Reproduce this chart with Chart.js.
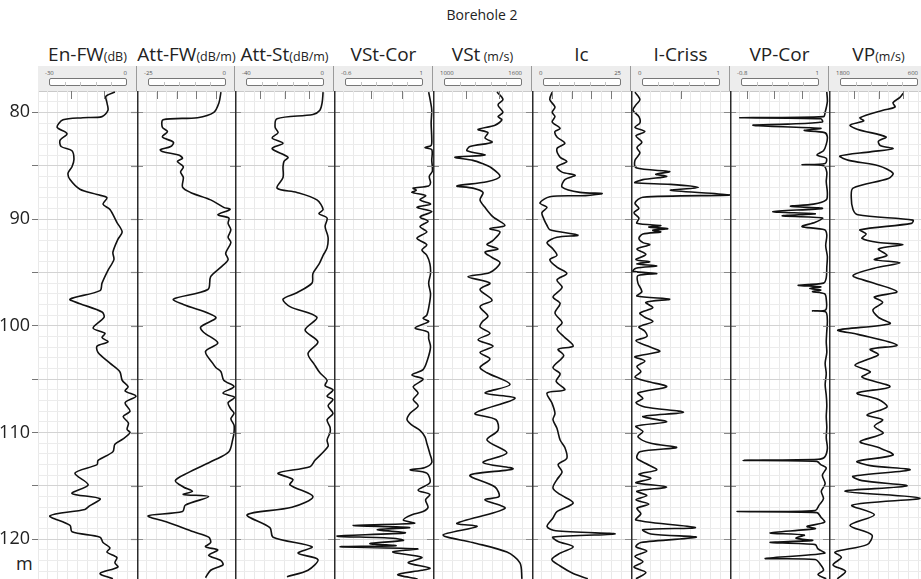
<!DOCTYPE html>
<html>
<head>
<meta charset="utf-8">
<script src="https://cdn.jsdelivr.net/npm/chart.js@4.4.0/dist/chart.umd.min.js"></script>
<style>
  html, body { margin: 0; padding: 0; background: #fff; }
  #wrap { position: relative; width: 921px; height: 579px; overflow: hidden; font-family: "Open Sans", "DejaVu Sans", sans-serif; color: #222; }
  .abs { position: absolute; }
  #main-title { left: 382px; width: 200px; top: 5px; text-align: center; font-size: 14px; line-height: 19px; }
  .trk-title { top: 41px; text-align: center; font-size: 19px; line-height: 26px; white-space: nowrap; }
  .trk-title span { font-size: 12.5px; }
  #band { left: 38px; top: 66px; width: 883px; height: 25px; background: #ededed; border-bottom: 1px solid #c9c9c9; }
  .band-sep { top: 66px; width: 1px; height: 25px; background: #9a9a9a; }
  .sc-lab { top: 70px; font-size: 6px; line-height: 7px; color: #555; white-space: nowrap; }
  .sc-box { top: 78px; height: 8px; border: 1px solid #777; border-radius: 2px; background: #fff; box-sizing: border-box; }
  .sc-tick { top: 82px; width: 1px; height: 4px; background: #c4c4c4; }
  #unit-m { left: 16px; top: 551px; font-size: 18px; line-height: 24px; }
  canvas.trk { position: absolute; top: 91px; }
</style>
</head>
<body>
<div id="wrap">
  <div id="main-title" class="abs">Borehole 2</div>
  <div id="band" class="abs"></div>
  <div id="unit-m" class="abs">m</div>
</div>
<script>
// Track headings and scale labels
const trackNames = ['En-FW', 'Att-FW', 'Att-St', 'VSt-Cor', 'VSt', 'Ic', 'I-Criss', 'VP-Cor', 'VP'];
const trackUnits = ['(dB)', '(dB/m)', '(dB/m)', '', ' (m/s)', '', '', '', '(m/s)'];
const scaleLeftLabels  = ['-30', '-25', '-40', '-0.6', '1000', '0', '0', '-0.8', '1800'];
const scaleRightLabels = ['0', '0', '0', '1', '1600', '25', '1', '1', '600'];
const axisMin = [-30, -25, -40, -0.6, 1000, 0, 0, -0.8, 600];
const axisMax = [0, 0, 0, 1, 1600, 25, 1, 1, 1800];
const axisReversed = [false, false, false, false, false, false, false, false, true];
const topTickValues = [[-20, -10], [-20, -15, -10, -5], [-30, -20, -10], [0, 0.5], [1200, 1400],
                       [5, 10, 15, 20], [0.5], [-0.5, 0, 0.5], [1500, 1200, 900]];
const depthLabels = [80, 90, 100, 110, 120];

// Log curves: [depth (m), value]
const enFw = [[78.1,-6.7],[78.5,-9.4],[79.1,-9.1],[79.8,-8.8],[80.4,-10.6],[80.5,-16.4],[80.7,-22.4],[81.4,-24.2],[82.0,-21.2],[82.6,-23.3],[83.2,-23.0],[83.6,-19.7],[84.4,-19.1],[85.1,-19.7],[85.7,-20.9],[86.3,-20.3],[87.2,-17.3],[87.7,-12.1],[88.0,-9.1],[88.6,-10.3],[89.1,-8.2],[90.3,-6.1],[91.2,-4.5],[91.9,-5.8],[93.1,-7.3],[93.8,-7.0],[94.8,-8.8],[96.0,-10.6],[96.7,-11.2],[97.5,-20.3],[97.9,-17.5],[98.7,-10.6],[99.2,-10.0],[100.2,-13.3],[100.7,-9.7],[101.1,-10.6],[101.5,-8.8],[101.9,-12.1],[102.5,-11.8],[103.5,-8.2],[104.3,-5.2],[105.1,-4.5],[105.7,-2.7],[106.1,-3.6],[106.6,-0.3],[107.2,-3.6],[108.0,-2.1],[108.5,-4.2],[109.1,-2.6],[109.7,-3.0],[110.0,-2.1],[110.6,-4.2],[111.1,-6.7],[111.8,-7.3],[112.6,-11.8],[113.0,-12.1],[113.8,-18.8],[114.9,-14.8],[115.7,-19.7],[116.2,-11.2],[116.9,-14.5],[117.2,-15.8],[117.8,-26.4],[118.7,-20.3],[119.3,-19.7],[119.8,-11.2],[120.3,-10.3],[120.8,-8.2],[121.2,-9.1],[121.7,-6.1],[122.2,-6.7],[122.6,-5.8],[123.2,-11.2],[123.7,-7.3]];

const attFw = [[78.1,-3.8],[79.1,-4.3],[80.0,-5.6],[80.5,-9.7],[80.7,-18.4],[81.4,-18.6],[81.8,-17.3],[82.3,-18.6],[82.8,-15.8],[83.2,-16.5],[83.5,-19.1],[83.7,-18.4],[84.0,-14.5],[84.3,-13.5],[84.6,-14.8],[85.1,-13.3],[85.6,-14.0],[86.1,-13.3],[87.0,-13.5],[87.5,-11.5],[88.2,-6.4],[88.9,-3.1],[89.1,-1.5],[89.6,-4.6],[89.9,-1.8],[90.4,-2.0],[91.0,-1.3],[91.7,-2.0],[92.2,-1.3],[93.2,-2.6],[93.8,-2.0],[94.5,-3.8],[95.4,-6.4],[96.6,-7.1],[97.5,-15.8],[98.0,-13.3],[99.2,-5.1],[100.1,-8.9],[100.6,-8.2],[101.6,-4.6],[102.4,-7.7],[103.5,-5.9],[103.9,-5.1],[104.3,-3.8],[105.1,-3.1],[105.7,-0.5],[106.3,-3.3],[106.7,-0.3],[107.2,-2.0],[107.8,-1.3],[108.2,-0.5],[108.7,-1.3],[109.3,-0.5],[110.0,-0.5],[110.6,-0.8],[111.8,-1.8],[112.6,-5.6],[113.8,-12.3],[114.5,-15.3],[115.1,-13.3],[115.5,-11.0],[115.8,-13.3],[116.0,-6.9],[116.8,-12.8],[117.4,-13.5],[117.8,-22.2],[118.4,-17.3],[119.3,-10.7],[119.8,-6.9],[120.3,-6.4],[120.7,-7.7],[121.0,-4.6],[121.5,-6.9],[122.0,-3.8],[122.4,-3.3],[122.9,-6.4],[123.6,-7.7]];

const attSt = [[78.1,-4.4],[79.1,-4.8],[79.8,-5.7],[80.2,-8.5],[80.6,-23.0],[81.4,-23.8],[81.9,-22.6],[82.4,-25.0],[82.9,-20.6],[83.4,-25.0],[84.2,-18.6],[84.6,-20.2],[85.1,-20.6],[86.1,-20.6],[87.1,-23.0],[87.5,-15.0],[88.2,-6.9],[89.1,-4.4],[89.5,-6.1],[89.9,-2.8],[90.7,-3.6],[91.7,-2.4],[92.7,-2.8],[93.4,-4.4],[94.2,-6.0],[95.1,-8.5],[96.0,-8.9],[96.9,-15.0],[97.5,-20.6],[98.2,-17.8],[99.2,-6.9],[100.4,-11.7],[101.5,-6.5],[102.6,-10.5],[103.7,-7.7],[104.4,-5.7],[105.1,-2.8],[105.6,-3.6],[106.0,-0.4],[106.6,-2.8],[106.9,-0.4],[107.5,-2.4],[108.2,-0.4],[108.8,-2.8],[109.5,-1.6],[110.0,-1.6],[110.7,-2.8],[111.3,-2.4],[112.6,-7.7],[113.2,-9.7],[113.8,-22.6],[114.4,-16.6],[114.9,-17.8],[116.0,-8.5],[117.0,-17.0],[117.7,-35.1],[118.9,-25.9],[119.8,-24.6],[120.7,-8.9],[121.3,-14.5],[121.9,-6.5],[122.9,-10.5],[123.5,-19.0]];

const vstCor = [[78.1,0.93],[79.0,0.96],[79.8,0.98],[81.0,0.97],[82.5,0.98],[83.1,0.97],[83.3,0.87],[83.5,0.98],[84.5,0.98],[85.5,0.99],[86.0,0.94],[86.6,0.96],[86.9,0.93],[87.1,0.68],[87.3,0.73],[87.5,0.66],[87.8,0.88],[88.2,0.79],[88.6,0.96],[88.9,0.74],[89.3,0.98],[89.8,0.79],[90.2,0.92],[90.7,0.79],[91.2,0.90],[91.8,0.74],[92.4,0.90],[92.9,0.82],[93.4,0.90],[94.2,0.95],[95.1,0.96],[96.0,0.93],[97.0,0.96],[98.0,0.94],[99.0,0.90],[99.3,0.84],[99.6,0.93],[100.2,0.71],[100.6,0.92],[101.2,0.93],[102.0,0.96],[103.2,0.91],[104.1,0.84],[104.6,0.66],[105.0,0.84],[105.7,0.68],[106.3,0.76],[106.9,0.68],[107.5,0.76],[108.2,0.63],[108.8,0.58],[109.3,0.66],[109.8,0.79],[110.4,0.87],[111.0,0.90],[112.0,0.95],[112.8,0.98],[113.3,0.86],[113.5,0.63],[113.8,0.90],[114.7,0.95],[115.4,0.76],[115.8,0.95],[116.3,0.88],[117.0,0.92],[117.4,0.84],[117.7,0.66],[118.2,0.52],[118.5,0.70],[118.7,-0.29],[118.9,0.62],[119.1,0.10],[119.4,0.55],[119.7,-0.55],[119.9,0.35],[120.1,0.52],[120.4,-0.02],[120.6,0.40],[120.7,-0.50],[120.9,0.75],[121.2,0.35],[121.7,0.82],[122.2,0.60],[122.7,0.95],[122.9,0.82],[123.3,0.43],[123.7,0.75]];

const vst = [[78.1,1388],[78.8,1424],[79.3,1394],[80.0,1424],[80.4,1394],[80.7,1418],[81.2,1376],[81.6,1273],[81.9,1333],[82.4,1315],[82.8,1358],[83.2,1224],[83.6,1206],[84.0,1315],[84.2,1133],[84.5,1242],[84.8,1300],[85.1,1345],[86.0,1406],[86.5,1327],[86.9,1145],[87.1,1242],[87.5,1303],[88.2,1285],[88.9,1315],[89.8,1364],[90.6,1436],[90.9,1345],[91.2,1406],[92.0,1364],[92.4,1327],[92.8,1394],[93.1,1315],[93.6,1358],[94.1,1406],[95.0,1345],[95.4,1212],[96.0,1345],[96.6,1285],[97.6,1358],[98.2,1285],[99.1,1333],[99.6,1300],[100.1,1285],[100.7,1345],[101.3,1273],[101.9,1364],[102.5,1285],[103.1,1345],[103.9,1285],[104.4,1327],[105.5,1467],[106.3,1315],[106.8,1497],[108.2,1255],[108.8,1382],[109.8,1394],[110.7,1327],[111.9,1448],[112.8,1303],[113.4,1485],[114.0,1224],[115.1,1376],[116.0,1400],[116.3,1315],[117.1,1436],[118.5,1145],[118.8,1267],[119.6,1061],[120.3,1240],[121.2,1448],[122.2,1527],[123.7,1539]];

const ic = [[78.1,5.1],[78.8,4.5],[79.5,5.8],[80.0,5.1],[80.4,5.8],[80.9,5.1],[81.5,7.1],[81.8,5.8],[82.3,6.3],[82.9,8.3],[83.4,6.3],[84.2,7.1],[84.6,8.8],[85.1,6.3],[85.6,7.6],[85.9,10.9],[86.3,8.3],[87.0,7.6],[87.5,12.1],[87.6,17.7],[87.8,13.5],[87.9,4.5],[88.5,2.0],[88.9,3.8],[89.4,2.5],[90.0,3.0],[90.6,3.8],[91.0,4.5],[91.5,11.6],[91.7,6.3],[92.2,3.8],[92.8,5.3],[93.4,6.3],[93.8,4.5],[94.5,6.3],[95.1,8.8],[95.7,6.3],[96.4,7.6],[97.3,5.3],[97.9,7.1],[98.8,5.8],[99.7,7.6],[100.3,6.3],[101.0,8.0],[101.9,10.4],[102.2,6.6],[102.8,8.0],[103.9,5.3],[104.5,7.1],[105.2,6.1],[106.0,8.3],[106.3,3.8],[107.2,5.0],[108.2,5.8],[108.8,5.3],[109.6,6.3],[110.7,7.1],[111.4,8.3],[112.4,8.8],[113.0,6.6],[113.7,7.6],[114.4,6.3],[115.2,5.3],[115.8,7.1],[116.6,10.4],[117.4,6.3],[118.0,5.3],[118.8,3.8],[119.2,6.0],[119.5,21.0],[119.8,5.3],[120.2,6.6],[120.7,10.4],[121.3,7.1],[121.9,5.0],[122.5,7.1],[123.2,10.4],[123.7,14.1]];

const iCriss = [[78.1,0.04],[78.8,0.09],[79.3,0.05],[79.8,0.02],[80.4,0.08],[81.0,0.09],[81.4,0.04],[81.8,0.14],[82.2,0.05],[82.8,0.11],[83.3,0.06],[83.8,0.09],[84.5,0.04],[85.2,0.05],[85.55,0.39],[85.8,0.25],[86.0,0.36],[86.3,0.12],[86.6,0.04],[86.75,0.40],[87.05,0.68],[87.3,0.40],[87.73,1.0],[87.95,0.12],[88.5,0.04],[89.0,0.08],[89.4,0.03],[89.9,0.08],[90.4,0.06],[90.6,0.30],[90.75,0.18],[90.9,0.37],[91.05,0.22],[91.2,0.30],[91.4,0.12],[91.8,0.08],[92.2,0.12],[92.4,0.19],[92.8,0.06],[93.3,0.15],[93.8,0.05],[94.0,0.19],[94.2,0.06],[94.4,0.26],[94.6,0.05],[94.9,0.02],[95.1,0.26],[95.3,0.07],[96.0,0.07],[96.8,0.11],[97.2,0.06],[97.5,0.39],[97.8,0.15],[98.3,0.22],[98.8,0.09],[99.2,0.14],[99.6,0.22],[100.1,0.08],[100.5,0.14],[101.0,0.16],[101.4,0.05],[101.9,0.17],[102.4,0.29],[102.9,0.04],[103.3,0.14],[103.8,0.06],[104.3,0.10],[104.8,0.04],[105.2,0.16],[105.7,0.36],[106.3,0.07],[106.8,0.12],[107.2,0.05],[107.6,0.14],[108.1,0.53],[108.5,0.12],[109.0,0.36],[109.4,0.05],[109.9,0.12],[110.4,0.07],[111.0,0.20],[111.4,0.46],[111.8,0.09],[112.4,0.06],[112.9,0.15],[113.5,0.26],[113.9,0.08],[114.3,0.20],[114.7,0.05],[115.1,0.36],[115.5,0.06],[115.9,0.16],[116.3,0.05],[116.7,0.18],[117.1,0.06],[117.6,0.10],[118.2,0.05],[118.9,0.65],[119.1,0.12],[119.5,0.20],[119.8,0.66],[120.3,0.10],[120.7,0.05],[121.1,0.16],[121.6,0.04],[122.1,0.12],[122.6,0.03],[123.1,0.15],[123.7,0.05]];

const vpCor = [[78.1,0.96],[79.0,0.97],[80.0,0.93],[80.4,0.90],[80.5,-0.62],[80.6,0.85],[80.9,0.88],[81.1,0.25],[81.2,-0.38],[81.3,-0.10],[81.5,0.85],[81.7,0.55],[81.9,0.92],[82.3,0.97],[83.0,0.95],[83.6,0.90],[84.0,0.78],[84.3,0.95],[84.8,0.93],[84.9,0.51],[85.0,0.90],[85.6,0.96],[86.5,0.95],[87.5,0.97],[88.2,0.95],[88.6,0.72],[88.8,0.30],[89.0,0.88],[89.3,-0.02],[89.5,0.75],[89.7,0.15],[89.9,0.88],[90.3,0.75],[90.7,0.51],[91.0,0.92],[91.5,0.96],[92.5,0.94],[93.5,0.97],[94.5,0.96],[95.5,0.95],[96.0,0.90],[96.2,0.44],[96.35,0.85],[96.5,0.65],[96.65,0.85],[96.8,0.70],[97.0,0.92],[97.5,0.95],[98.5,0.94],[98.6,0.70],[98.7,0.94],[99.5,0.97],[100.5,0.96],[101.5,0.95],[102.5,0.96],[103.5,0.93],[104.5,0.95],[105.5,0.93],[106.5,0.95],[107.5,0.96],[108.5,0.95],[109.5,0.96],[110.5,0.95],[111.5,0.97],[112.3,0.92],[112.5,0.80],[112.6,-0.56],[112.7,0.78],[113.0,0.85],[113.3,0.95],[114.0,0.88],[114.8,0.93],[115.5,0.86],[116.2,0.90],[116.8,0.82],[117.3,0.75],[117.4,-0.67],[117.5,0.78],[117.9,0.85],[118.4,0.92],[118.8,0.60],[119.0,0.75],[119.4,-0.07],[119.6,0.55],[119.9,0.40],[120.1,0.70],[120.3,-0.07],[120.5,0.75],[120.9,0.80],[121.3,0.92],[121.8,-0.16],[121.9,0.75],[122.4,0.85],[122.9,0.90],[123.3,0.80],[123.7,0.95]];

const vp = [[78.2,899],[78.6,940],[79.1,1024],[79.5,1000],[79.8,1145],[80.5,1424],[80.8,1380],[81.2,1545],[81.6,1450],[82.3,1109],[82.7,1200],[83.1,1180],[83.4,1024],[83.7,1300],[84.1,1667],[84.5,1560],[85.0,1200],[85.7,1024],[86.2,1080],[87.1,1509],[88.0,1530],[89.1,1509],[89.6,1450],[90.1,782],[90.4,800],[91.0,1424],[91.4,1350],[91.8,1400],[92.2,1200],[92.4,903],[92.8,1200],[93.4,1097],[93.8,1250],[94.1,939],[94.6,1250],[95.3,1509],[95.9,1300],[96.8,976],[97.3,1250],[97.8,1150],[98.5,1267],[99.2,1200],[99.8,1061],[100.4,1691],[100.8,1450],[101.8,976],[102.2,1300],[102.7,1200],[103.2,1350],[103.7,1485],[104.3,1300],[104.8,1400],[105.7,1061],[106.3,1460],[106.9,1200],[107.6,1097],[108.35,1339],[108.8,1150],[109.4,1250],[110.07,1145],[110.85,1424],[111.4,1200],[112.1,1024],[112.7,1460],[113.1,1300],[113.5,818],[114.1,1509],[114.5,1400],[115.0,855],[115.5,1606],[116.15,697],[116.8,1521],[117.7,1250],[118.7,1545],[119.6,1280],[120.5,1339],[121.2,1727],[121.7,1650],[122.4,1751],[123.0,1600],[123.7,1700]];

const curves = [enFw, attFw, attSt, vstCor, vst, ic, iCriss, vpCor, vp];

// Layout of the tracks (pixels)
const TRACK_X = [38, 137, 235, 334, 433, 532, 631, 730, 829];
const TRACK_W = 99;
const PLOT_H = 488;
const DEPTH_MIN = 78.0, DEPTH_MAX = 123.72;

const wrap = document.getElementById('wrap');
function addDiv(cls, styleObj, html) {
  const d = document.createElement('div');
  d.className = 'abs ' + cls;
  Object.assign(d.style, styleObj);
  if (html !== undefined) d.innerHTML = html;
  wrap.appendChild(d);
  return d;
}

// Track headers
trackNames.forEach((name, i) => {
  const x = TRACK_X[i];
  addDiv('trk-title', { left: x + 'px', width: TRACK_W + 'px' },
    name + (trackUnits[i] ? '<span>' + trackUnits[i] + '</span>' : ''));
  if (i > 0) addDiv('band-sep', { left: (x - 1) + 'px' });
  addDiv('sc-lab', { left: (x + 7) + 'px' }, scaleLeftLabels[i]);
  addDiv('sc-lab', { left: (x + 50) + 'px', width: '39px', textAlign: 'right' }, scaleRightLabels[i]);
  addDiv('sc-box', { left: (x + 11) + 'px', width: '78px' });
  for (let k = 1; k < 5; k++) addDiv('sc-tick', { left: (x + 11 + k * 15.6) + 'px' });
});

// Separators, depth ticks on the track edges and scale ticks at the top
const trackDecor = {
  id: 'trackDecor',
  afterDatasetsDraw(chart, args, opts) {
    const { ctx, chartArea: a, scales } = chart;
    ctx.save();
    ctx.strokeStyle = '#8a8a8a';
    ctx.lineWidth = 1.2;
    for (let d = 80; d <= 120; d += 5) {
      const y = Math.round(scales.y.getPixelForValue(d)) + 0.5;
      ctx.beginPath();
      if (opts.separator) { ctx.moveTo(a.left, y); ctx.lineTo(a.left + 6, y); }
      ctx.moveTo(a.right - 6, y); ctx.lineTo(a.right, y);
      ctx.stroke();
    }
    ctx.strokeStyle = '#7a7a7a';
    ctx.lineWidth = 1;
    opts.topTicks.forEach(v => {
      const x = Math.round(scales.x.getPixelForValue(v)) + 0.5;
      ctx.beginPath(); ctx.moveTo(x, a.top); ctx.lineTo(x, a.top + 8); ctx.stroke();
    });
    if (opts.separator) {
      ctx.strokeStyle = '#2b2b2b';
      ctx.lineWidth = 1.5;
      ctx.beginPath(); ctx.moveTo(a.left + 0.75, a.top); ctx.lineTo(a.left + 0.75, a.bottom); ctx.stroke();
    }
    ctx.restore();
  }
};

function noPadding(s) {
  s.paddingTop = 0; s.paddingBottom = 0; s.paddingLeft = 0; s.paddingRight = 0;
}

curves.forEach((curve, i) => {
  const first = i === 0;
  const left = first ? 0 : TRACK_X[i];
  const width = first ? TRACK_X[1] : TRACK_W;
  const cv = document.createElement('canvas');
  cv.className = 'trk';
  cv.width = width; cv.height = PLOT_H;
  cv.style.left = left + 'px';
  cv.style.width = width + 'px';
  cv.style.height = PLOT_H + 'px';
  wrap.appendChild(cv);

  const min = axisMin[i], max = axisMax[i];
  new Chart(cv.getContext('2d'), {
    type: 'scatter',
    data: {
      datasets: [{
        data: curve.map(([d, v]) => ({ x: v, y: d })),
        showLine: true,
        borderColor: '#111',
        borderWidth: 1.6,
        pointRadius: 0,
        tension: 0.3,
        fill: false
      }]
    },
    options: {
      responsive: false,
      maintainAspectRatio: false,
      animation: false,
      devicePixelRatio: 1,
      layout: { padding: 0, autoPadding: false },
      events: [],
      plugins: {
        legend: { display: false },
        tooltip: { enabled: false },
        trackDecor: { separator: !first, topTicks: topTickValues[i] }
      },
      scales: {
        x: {
          type: 'linear', position: 'top', min, max, reverse: axisReversed[i],
          afterBuildTicks: s => { s.ticks = Array.from({ length: 11 }, (_, k) => ({ value: min + k * (max - min) / 10 })); },
          afterFit: s => { s.height = 0; noPadding(s); },
          ticks: { display: false },
          grid: { color: '#e9e9e9', lineWidth: 1, drawTicks: false },
          border: { display: false }
        },
        y: {
          type: 'linear', min: DEPTH_MIN, max: DEPTH_MAX, reverse: true,
          afterBuildTicks: s => { const t = []; for (let d = 79; d <= 123; d++) t.push({ value: d }); s.ticks = t; },
          afterFit: s => { s.width = first ? 38 : 0; noPadding(s); },
          ticks: {
            display: first, autoSkip: false, padding: 2,
            callback: v => depthLabels.includes(v) ? String(v) : '',
            font: { size: 18, family: '"Open Sans", sans-serif' }, color: '#222'
          },
          grid: {
            color: c => (c.tick && c.tick.value % 5 === 0) ? '#d3d3d3' : '#ececec',
            lineWidth: 1,
            drawTicks: first, tickLength: 6,
            tickColor: c => (c.tick && c.tick.value % 5 === 0) ? '#777' : 'rgba(0,0,0,0)'
          },
          border: { display: false }
        }
      }
    },
    plugins: [trackDecor]
  });
});
</script>
</body>
</html>
